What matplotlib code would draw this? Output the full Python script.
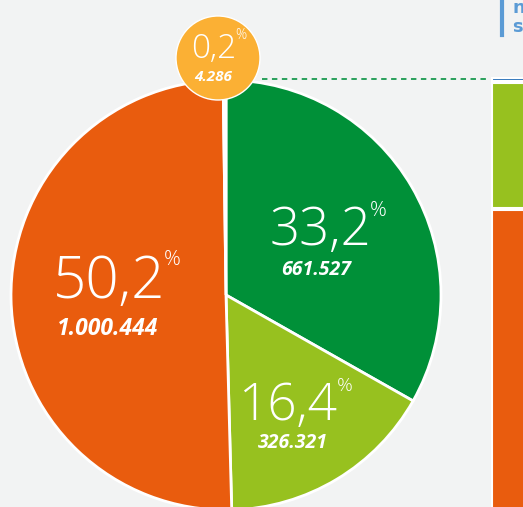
import matplotlib.pyplot as plt
from matplotlib.patches import Circle

# pie data
shares = ["33,2", "16,4", "50,2", "0,2"]
counts = [661527, 326321, 1000444, 4286]
count_labels = ["661.527", "326.321", "1.000.444", "4.286"]
colors = ["#009038", "#97c11f", "#e95c0e", "#fbb034"]

# partial stacked bar on the right edge (pixel heights, top to bottom)
bar_parts = [3, 125, 300]
bar_colors = ["#2a71b8", "#97c11f", "#e95c0e"]

H = 507
fig = plt.figure(figsize=(5.23, 5.07), dpi=100)
fig.patch.set_facecolor("#f2f3f3")
ax = fig.add_axes([0, 0, 1, 1])

fam = ["Open Sans", "DejaVu Sans"]
light = dict(family=fam, weight="light", color="white")
bolds = dict(family=fam, weight="bold", style="italic", color="white")

ax.pie(counts, colors=colors, startangle=90, counterclock=False,
       center=(226, H - 295), radius=215, frame=True,
       wedgeprops=dict(edgecolor="white", linewidth=2))
ax.set_xlim(0, 523)
ax.set_ylim(0, H)
ax.axis("off")

# dashed connector
ax.plot([262, 490], [H - 79, H - 79], color="#1a9a50", lw=1.3, ls=(0, (3, 2.5)))

# right bar
top = H - 78
for h, c in zip(bar_parts, bar_colors):
    ax.bar(492, h, bottom=top - h, width=40, align="edge", color=c,
           edgecolor="white", linewidth=1.5)
    top -= h + 2

# top right caption fragment
ax.plot([502, 502], [H, H - 35], color="#5b9bd5", lw=3)
ax.text(512, H - 8, "n", fontsize=13, color="#5b9bd5", weight="bold", va="center")
ax.text(512, H - 27, "s", fontsize=13, color="#5b9bd5", weight="bold", va="center")

# small share bubble
ax.add_patch(Circle((218, H - 58), 42, color="#fbb034", ec="white", lw=1, zorder=5))

# labels: (x, number baseline, size, pct size, value x, value baseline, value size)
label_pos = [
    (320, 245, 38, 15, 316, 275, 14),
    (288, 420, 37, 14, 293, 448, 14),
    (109, 298, 42, 15, 108, 335, 16.5),
    (214, 58, 24, 10, 213, 81, 11),
]
fig.canvas.draw()
r = fig.canvas.get_renderer()
inv = ax.transData.inverted()
for s, cl, p in zip(shares, count_labels, label_pos):
    nx, ny, ns, ps, vx, vy, vs = p
    t = ax.text(nx, H - ny, s, fontsize=ns, ha="center", va="baseline", zorder=6, **light)
    bb = t.get_window_extent(r)
    x1, y1 = inv.transform((bb.x1, bb.y1))
    top_y = H - ny + ns * 0.714 * 100 / 72
    ax.text(x1 - 1, top_y + 6, "%", fontsize=ps, ha="left", va="top", zorder=6, **light)
    ax.text(vx, H - vy, cl, fontsize=vs, ha="center", va="baseline", zorder=6, **bolds)

fig.savefig("out.png", dpi=100, facecolor=fig.get_facecolor())
